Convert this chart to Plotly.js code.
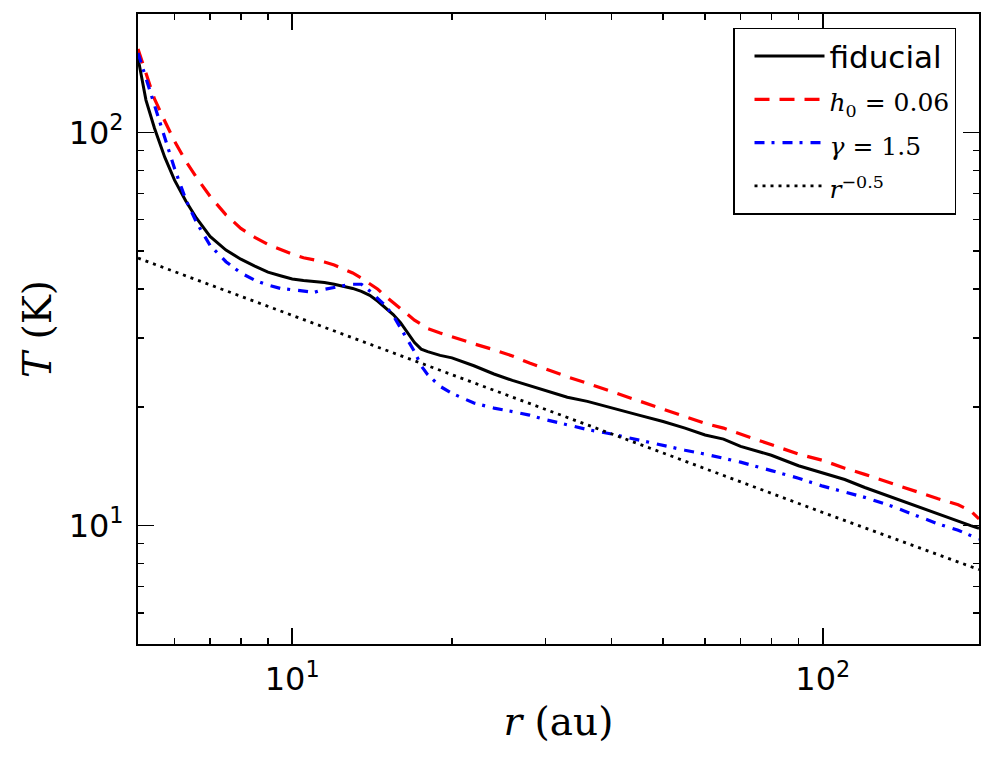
<!DOCTYPE html>
<html>
<head>
<meta charset="utf-8">
<script src="https://cdn.plot.ly/plotly-3.0.1.min.js"></script>
<style>
  html, body { margin: 0; padding: 0; background: #fff; }
  #chart { width: 994px; height: 757px; }
</style>
</head>
<body>
<div id="chart"></div>
<script>
// Radial grid shared by the three temperature profiles (au)
const radius = [5.12, 5.3, 5.5, 5.75, 6, 6.3, 6.6, 7, 7.5, 8, 8.5, 9, 9.5, 10,
  10.5, 11, 11.5, 12, 12.5, 13, 13.5, 14, 14.5, 15, 15.5, 16, 16.5, 17, 17.5, 18,
  19, 20, 22, 24, 26, 28, 30, 33, 36, 40, 45, 50, 55, 60, 65, 70, 80, 90, 100,
  110, 120, 135, 150, 165, 180, 190, 197];

// Midplane temperature (K), fiducial model
const tFiducial = [154.6, 120.8, 102.5, 86.5, 75.6, 66.9, 60.5, 54.4, 50.2, 47.6,
  45.7, 44.1, 43.2, 42.4, 42.0, 41.8, 41.5, 41.1, 40.6, 40.1, 39.4, 38.5, 37.2,
  35.8, 34.4, 32.8, 30.8, 29.2, 28.1, 27.7, 27.1, 26.7, 25.5, 24.3, 23.4, 22.7,
  22.1, 21.2, 20.7, 19.9, 19.1, 18.4, 17.7, 17.0, 16.6, 15.9, 15.1, 14.2, 13.6,
  13.1, 12.5, 11.8, 11.2, 10.7, 10.25, 10.0, 9.85];

// Thicker disc, h0 = 0.06
const tAspect = [163.0, 140.8, 121.6, 106.9, 95.0, 84.5, 76.8, 68.8, 61.7, 57.0,
  54.1, 51.9, 50.3, 49.0, 48.0, 47.4, 46.8, 46.0, 44.9, 43.9, 42.6, 41.3, 39.9,
  38.3, 36.9, 35.5, 34.3, 33.3, 32.5, 31.7, 30.9, 30.2, 29.0, 28.0, 27.0, 25.9,
  25.0, 23.9, 23.0, 21.9, 20.8, 19.8, 18.9, 18.2, 17.7, 17.1, 16.0, 15.2, 14.65,
  14.0, 13.5, 12.8, 12.2, 11.7, 11.3, 10.9, 10.4];

// Steeper surface density, gamma = 1.5
const tGamma = [159.2, 137.3, 117.0, 97.1, 80.9, 67.5, 59.0, 51.6, 46.9, 43.9,
  42.1, 40.9, 40.1, 39.8, 39.5, 39.2, 39.9, 40.4, 40.75, 41.1, 41.1, 39.5, 37.9,
  36.2, 34.2, 31.8, 29.8, 27.7, 25.5, 24.2, 22.6, 21.7, 20.5, 19.9, 19.5, 19.1,
  18.6, 18.0, 17.55, 17.1, 16.5, 16.0, 15.55, 15.2, 14.8, 14.5, 13.8, 13.2, 12.6,
  12.2, 11.8, 11.2, 10.6, 10.1, 9.73, 9.43, 9.24];

// Reference power law r^-0.5
const radiusLaw = [5.12, 10, 20, 50, 100, 197];
const tLaw = [47.9, 34.2, 24.2, 15.3, 10.8, 7.73];

const mathStyle = 'font-family:DejaVu Serif;font-size:25px';
const seriesNames = [
  'fiducial',
  '<span style="' + mathStyle + '"><i>h</i><sub>0</sub> = 0.06</span>',
  '<span style="' + mathStyle + '"><i>γ</i> = 1.5</span>',
  '<span style="' + mathStyle + '"><i>r</i><sup>−0.5</sup></span>'
];

const majorTicks = [10, 100];
const majorTickText = ['10<sup>1</sup>', '10<sup>2</sup>'];
const xMinorTicks = [6, 7, 8, 9, 20, 30, 40, 50, 60, 70, 80, 90];
const yMinorTicks = [6, 7, 8, 9, 20, 30, 40, 50, 60, 70, 80, 90];

const traces = [
  { x: radius, y: tFiducial, name: seriesNames[0], mode: 'lines',
    line: { color: '#000000', width: 3 } },
  { x: radius, y: tAspect, name: seriesNames[1], mode: 'lines',
    line: { color: '#ff0000', width: 3.2, dash: '15px,10px' } },
  { x: radius, y: tGamma, name: seriesNames[2], mode: 'lines',
    line: { color: '#0000ff', width: 3.2, dash: '10px,7px,3px,8px' } },
  { x: radiusLaw, y: tLaw, name: seriesNames[3], mode: 'lines',
    line: { color: '#000000', width: 2.8, dash: '3px,5px' } }
];

function axisStyle(minorTicks) {
  return {
    type: 'log',
    tickmode: 'array',
    tickvals: majorTicks,
    ticktext: majorTickText,
    ticks: 'inside',
    ticklen: 16,
    tickwidth: 1.5,
    tickcolor: '#000',
    showline: true,
    linewidth: 2,
    linecolor: '#000',
    mirror: 'allticks',
    showgrid: false,
    zeroline: false,
    ticklabelstandoff: 6,
    tickfont: { family: 'DejaVu Sans', size: 32, color: '#000' },
    minor: { tickmode: 'array', tickvals: minorTicks, ticks: 'inside', ticklen: 6,
             tickwidth: 1.5, tickcolor: '#000', showgrid: false }
  };
}

const xaxis = Object.assign(axisStyle(xMinorTicks), {
  range: [Math.log10(5.12), Math.log10(197)],
  title: { text: '<i>r</i> (au)', font: { family: 'DejaVu Serif', size: 39, color: '#000' }, standoff: 10 }
});
const yaxis = Object.assign(axisStyle(yMinorTicks), {
  range: [Math.log10(5), Math.log10(200)],
  title: { text: '<i>T</i> (K)', font: { family: 'DejaVu Serif', size: 39, color: '#000' }, standoff: 5 }
});

const layout = {
  width: 994,
  height: 757,
  margin: { l: 138, r: 15, t: 14, b: 113 },
  paper_bgcolor: '#ffffff',
  plot_bgcolor: '#ffffff',
  showlegend: true,
  legend: {
    x: 0.7075, y: 0.978, xanchor: 'left', yanchor: 'top',
    bgcolor: '#ffffff', bordercolor: '#000', borderwidth: 1.5,
    font: { family: 'DejaVu Sans', size: 31, color: '#000' },
    indentation: 15,
    itemwidth: 70
  },
  xaxis: xaxis,
  yaxis: yaxis
};

Plotly.newPlot('chart', traces, layout, { displayModeBar: false, staticPlot: true });
</script>
</body>
</html>
